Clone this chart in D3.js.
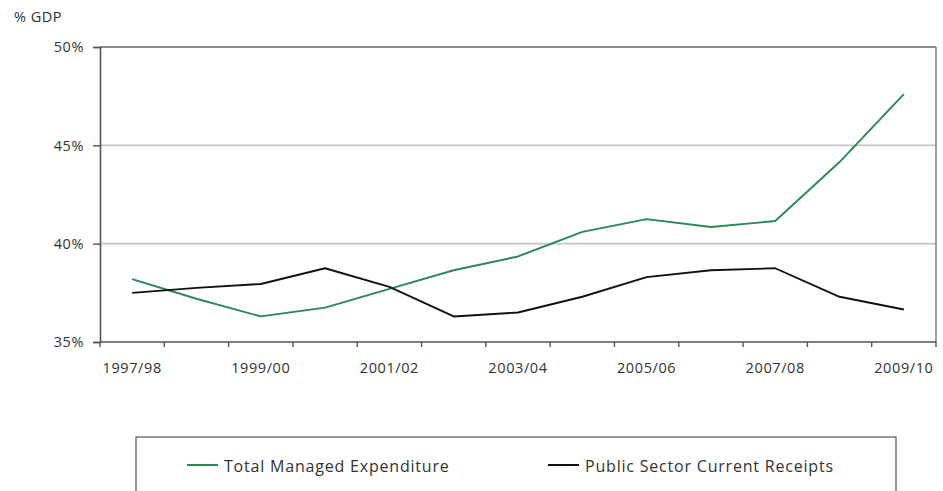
<!DOCTYPE html>
<html>
<head>
<meta charset="utf-8">
<script src="https://cdn.jsdelivr.net/npm/d3@7"></script>
<style>
  html, body { margin: 0; padding: 0; background: #fff; }
  svg { display: block; }
  text { font-family: "Open Sans", "Noto Sans", sans-serif; fill: #333; }
</style>
</head>
<body>
<svg id="chart" width="943" height="491"></svg>
<script>
// ---- data ----
const years = ["1997/98","1998/99","1999/00","2000/01","2001/02","2002/03","2003/04",
               "2004/05","2005/06","2006/07","2007/08","2008/09","2009/10"];
const labelledYears = ["1997/98","1999/00","2001/02","2003/04","2005/06","2007/08","2009/10"];
const totalManagedExpenditure = [38.2, 37.2, 36.3, 36.75, 37.7, 38.65, 39.35, 40.6, 41.25, 40.85, 41.15, 44.15, 47.6];
const publicSectorReceipts   = [37.5, 37.75, 37.95, 38.75, 37.8, 36.3, 36.5, 37.3, 38.3, 38.65, 38.75, 37.3, 36.65];
const yTicks = [35, 40, 45, 50];
const seriesNames = ["Total Managed Expenditure", "Public Sector Current Receipts"];
const seriesColors = ["#2b8658", "#111111"];

// ---- layout ----
const svg = d3.select("#chart");
const L = 100, R = 936, T = 47, B = 342;

const x = d3.scaleBand().domain(years).range([L, R]);
const y = d3.scaleLinear().domain([35, 50]).range([B, T]);

// gridlines
svg.append("g").selectAll("line").data([40, 45]).join("line")
  .attr("x1", L).attr("x2", R)
  .attr("y1", d => y(d)).attr("y2", d => y(d))
  .attr("stroke", "#c6c6c6").attr("stroke-width", 1.6);

// frame: top and right
svg.append("line").attr("x1", L).attr("x2", R).attr("y1", T).attr("y2", T)
  .attr("stroke", "#666").attr("stroke-width", 1.6);
svg.append("line").attr("x1", R).attr("x2", R).attr("y1", T).attr("y2", B)
  .attr("stroke", "#888").attr("stroke-width", 1.6);

// y axis
const yAxis = d3.axisLeft(y).tickValues(yTicks).tickFormat(d => d + "%")
  .tickSize(7).tickPadding(9);
const gy = svg.append("g").attr("transform", `translate(${L},0)`).call(yAxis);
gy.select(".domain").attr("stroke", "#555").attr("stroke-width", 1.6);
gy.selectAll(".tick line").attr("stroke", "#555").attr("stroke-width", 1.4);
gy.selectAll(".tick text").attr("font-size", 14.5).attr("dy", "0.34em")
  .style("font-family", "'Open Sans', sans-serif").style("letter-spacing", "0.6px")
  .attr("fill", "#333");

// x axis: ticks at band boundaries, labels every other year
const gx = svg.append("g").attr("transform", `translate(0,${B})`);
gx.append("line").attr("x1", L).attr("x2", R).attr("y1", 0).attr("y2", 0)
  .attr("stroke", "#555").attr("stroke-width", 1.6);
const boundaries = years.map(d => x(d)).concat([x(years[years.length - 1]) + x.bandwidth()]);
gx.selectAll("line.tk").data(boundaries).join("line").attr("class", "tk")
  .attr("x1", d => d).attr("x2", d => d).attr("y1", 0).attr("y2", 5)
  .attr("stroke", "#555").attr("stroke-width", 1.4);
gx.selectAll("text").data(labelledYears).join("text")
  .attr("x", d => x(d) + x.bandwidth() / 2)
  .attr("y", 31)
  .attr("text-anchor", "middle")
  .attr("font-size", 14.5)
  .style("letter-spacing", "0.6px")
  .text(d => d);

// y axis title
svg.append("text").attr("x", 14).attr("y", 22).attr("font-size", 14.5)
  .style("letter-spacing", "0.5px").text("% GDP");

// lines
const lineGen = d3.line()
  .x((d, i) => x(years[i]) + x.bandwidth() / 2)
  .y(d => y(d));
[totalManagedExpenditure, publicSectorReceipts].forEach((s, k) => {
  svg.append("path").datum(s)
    .attr("d", lineGen)
    .attr("fill", "none")
    .attr("stroke", seriesColors[k])
    .attr("stroke-width", 1.9)
    .attr("stroke-linejoin", "round");
});

// legend
svg.append("rect").attr("x", 136).attr("y", 437).attr("width", 760).attr("height", 80)
  .attr("fill", "none").attr("stroke", "#444").attr("stroke-width", 1.1);
const legendX = [187, 548];
seriesNames.forEach((name, k) => {
  svg.append("line").attr("x1", legendX[k]).attr("x2", legendX[k] + 31)
    .attr("y1", 465).attr("y2", 465)
    .attr("stroke", seriesColors[k]).attr("stroke-width", 2);
  svg.append("text").attr("x", legendX[k] + 37).attr("y", 472)
    .attr("font-size", 16).style("letter-spacing", "0.8px")
    .attr("fill", "#222").text(name);
});
</script>
</body>
</html>
